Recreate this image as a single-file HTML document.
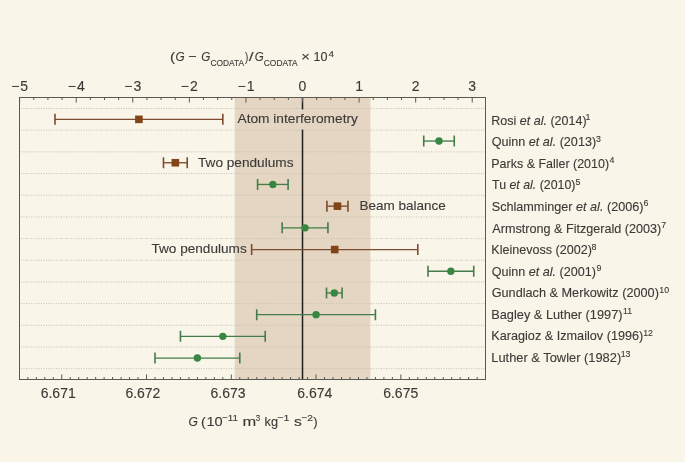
<!DOCTYPE html>
<html><head><meta charset="utf-8"><style>
html,body{margin:0;padding:0;background:#f9f5e9;}
svg{display:block;will-change:transform;}
text{font-family:"Liberation Sans",sans-serif;fill:#3c3a37;stroke:#3c3a37;stroke-width:0.12px;}
</style></head><body>
<svg width="685" height="462" viewBox="0 0 685 462">
<rect x="0" y="0" width="685" height="462" fill="#f9f5e9"/>
<rect x="234.69" y="97.5" width="135.63" height="282.0" fill="#e4d6c2"/>
<g stroke="#c4bfb3" stroke-width="1" stroke-dasharray="1 1.5">
<line x1="21.0" y1="108.50" x2="484.5" y2="108.50"/>
<line x1="21.0" y1="130.18" x2="484.5" y2="130.18"/>
<line x1="21.0" y1="151.86" x2="484.5" y2="151.86"/>
<line x1="21.0" y1="173.54" x2="484.5" y2="173.54"/>
<line x1="21.0" y1="195.22" x2="484.5" y2="195.22"/>
<line x1="21.0" y1="216.90" x2="484.5" y2="216.90"/>
<line x1="21.0" y1="238.58" x2="484.5" y2="238.58"/>
<line x1="21.0" y1="260.26" x2="484.5" y2="260.26"/>
<line x1="21.0" y1="281.94" x2="484.5" y2="281.94"/>
<line x1="21.0" y1="303.62" x2="484.5" y2="303.62"/>
<line x1="21.0" y1="325.30" x2="484.5" y2="325.30"/>
<line x1="21.0" y1="346.98" x2="484.5" y2="346.98"/>
<line x1="21.0" y1="368.66" x2="484.5" y2="368.66"/>
</g>
<line x1="302.51" y1="97.5" x2="302.51" y2="379.5" stroke="#221e19" stroke-width="1.5"/>
<rect x="236" y="109.4" width="124" height="20.2" fill="#e4d6c2"/>
<g stroke="#5c5852" stroke-width="1">
<line x1="19.64" y1="97.5" x2="19.64" y2="102.5"/>
<line x1="33.78" y1="97.5" x2="33.78" y2="100.0"/>
<line x1="47.92" y1="97.5" x2="47.92" y2="100.0"/>
<line x1="62.07" y1="97.5" x2="62.07" y2="100.0"/>
<line x1="76.21" y1="97.5" x2="76.21" y2="102.5"/>
<line x1="90.35" y1="97.5" x2="90.35" y2="100.0"/>
<line x1="104.50" y1="97.5" x2="104.50" y2="100.0"/>
<line x1="118.64" y1="97.5" x2="118.64" y2="100.0"/>
<line x1="132.78" y1="97.5" x2="132.78" y2="102.5"/>
<line x1="146.93" y1="97.5" x2="146.93" y2="100.0"/>
<line x1="161.07" y1="97.5" x2="161.07" y2="100.0"/>
<line x1="175.21" y1="97.5" x2="175.21" y2="100.0"/>
<line x1="189.36" y1="97.5" x2="189.36" y2="102.5"/>
<line x1="203.50" y1="97.5" x2="203.50" y2="100.0"/>
<line x1="217.65" y1="97.5" x2="217.65" y2="100.0"/>
<line x1="231.79" y1="97.5" x2="231.79" y2="100.0"/>
<line x1="245.93" y1="97.5" x2="245.93" y2="102.5"/>
<line x1="260.08" y1="97.5" x2="260.08" y2="100.0"/>
<line x1="274.22" y1="97.5" x2="274.22" y2="100.0"/>
<line x1="288.36" y1="97.5" x2="288.36" y2="100.0"/>
<line x1="302.51" y1="97.5" x2="302.51" y2="102.5"/>
<line x1="316.65" y1="97.5" x2="316.65" y2="100.0"/>
<line x1="330.79" y1="97.5" x2="330.79" y2="100.0"/>
<line x1="344.94" y1="97.5" x2="344.94" y2="100.0"/>
<line x1="359.08" y1="97.5" x2="359.08" y2="102.5"/>
<line x1="373.22" y1="97.5" x2="373.22" y2="100.0"/>
<line x1="387.37" y1="97.5" x2="387.37" y2="100.0"/>
<line x1="401.51" y1="97.5" x2="401.51" y2="100.0"/>
<line x1="415.66" y1="97.5" x2="415.66" y2="102.5"/>
<line x1="429.80" y1="97.5" x2="429.80" y2="100.0"/>
<line x1="443.94" y1="97.5" x2="443.94" y2="100.0"/>
<line x1="458.09" y1="97.5" x2="458.09" y2="100.0"/>
<line x1="472.23" y1="97.5" x2="472.23" y2="102.5"/>
<line x1="27.85" y1="379.5" x2="27.85" y2="377.0"/>
<line x1="36.33" y1="379.5" x2="36.33" y2="377.0"/>
<line x1="44.81" y1="379.5" x2="44.81" y2="377.0"/>
<line x1="53.28" y1="379.5" x2="53.28" y2="377.0"/>
<line x1="61.76" y1="379.5" x2="61.76" y2="374.5"/>
<line x1="70.24" y1="379.5" x2="70.24" y2="377.0"/>
<line x1="78.71" y1="379.5" x2="78.71" y2="377.0"/>
<line x1="87.19" y1="379.5" x2="87.19" y2="377.0"/>
<line x1="95.67" y1="379.5" x2="95.67" y2="377.0"/>
<line x1="104.14" y1="379.5" x2="104.14" y2="377.0"/>
<line x1="112.62" y1="379.5" x2="112.62" y2="377.0"/>
<line x1="121.10" y1="379.5" x2="121.10" y2="377.0"/>
<line x1="129.58" y1="379.5" x2="129.58" y2="377.0"/>
<line x1="138.05" y1="379.5" x2="138.05" y2="377.0"/>
<line x1="146.53" y1="379.5" x2="146.53" y2="374.5"/>
<line x1="155.01" y1="379.5" x2="155.01" y2="377.0"/>
<line x1="163.48" y1="379.5" x2="163.48" y2="377.0"/>
<line x1="171.96" y1="379.5" x2="171.96" y2="377.0"/>
<line x1="180.44" y1="379.5" x2="180.44" y2="377.0"/>
<line x1="188.92" y1="379.5" x2="188.92" y2="377.0"/>
<line x1="197.39" y1="379.5" x2="197.39" y2="377.0"/>
<line x1="205.87" y1="379.5" x2="205.87" y2="377.0"/>
<line x1="214.35" y1="379.5" x2="214.35" y2="377.0"/>
<line x1="222.82" y1="379.5" x2="222.82" y2="377.0"/>
<line x1="231.30" y1="379.5" x2="231.30" y2="374.5"/>
<line x1="239.78" y1="379.5" x2="239.78" y2="377.0"/>
<line x1="248.25" y1="379.5" x2="248.25" y2="377.0"/>
<line x1="256.73" y1="379.5" x2="256.73" y2="377.0"/>
<line x1="265.21" y1="379.5" x2="265.21" y2="377.0"/>
<line x1="273.68" y1="379.5" x2="273.68" y2="377.0"/>
<line x1="282.16" y1="379.5" x2="282.16" y2="377.0"/>
<line x1="290.64" y1="379.5" x2="290.64" y2="377.0"/>
<line x1="299.12" y1="379.5" x2="299.12" y2="377.0"/>
<line x1="307.59" y1="379.5" x2="307.59" y2="377.0"/>
<line x1="316.07" y1="379.5" x2="316.07" y2="374.5"/>
<line x1="324.55" y1="379.5" x2="324.55" y2="377.0"/>
<line x1="333.02" y1="379.5" x2="333.02" y2="377.0"/>
<line x1="341.50" y1="379.5" x2="341.50" y2="377.0"/>
<line x1="349.98" y1="379.5" x2="349.98" y2="377.0"/>
<line x1="358.46" y1="379.5" x2="358.46" y2="377.0"/>
<line x1="366.93" y1="379.5" x2="366.93" y2="377.0"/>
<line x1="375.41" y1="379.5" x2="375.41" y2="377.0"/>
<line x1="383.89" y1="379.5" x2="383.89" y2="377.0"/>
<line x1="392.36" y1="379.5" x2="392.36" y2="377.0"/>
<line x1="400.84" y1="379.5" x2="400.84" y2="374.5"/>
<line x1="409.32" y1="379.5" x2="409.32" y2="377.0"/>
<line x1="417.79" y1="379.5" x2="417.79" y2="377.0"/>
<line x1="426.27" y1="379.5" x2="426.27" y2="377.0"/>
<line x1="434.75" y1="379.5" x2="434.75" y2="377.0"/>
<line x1="443.23" y1="379.5" x2="443.23" y2="377.0"/>
<line x1="451.70" y1="379.5" x2="451.70" y2="377.0"/>
<line x1="460.18" y1="379.5" x2="460.18" y2="377.0"/>
<line x1="468.66" y1="379.5" x2="468.66" y2="377.0"/>
<line x1="477.13" y1="379.5" x2="477.13" y2="377.0"/>
</g>
<rect x="19.5" y="97.5" width="466.0" height="282.0" fill="none" stroke="#5c5852" stroke-width="1"/>
<path d="M54.98 119.35H222.82" stroke="#7d4b2d" stroke-width="1.35"/>
<path d="M54.98 113.85V124.85M222.82 113.85V124.85" stroke="#7d4b2d" stroke-width="1.6"/>
<rect x="135.10" y="115.55" width="7.6" height="7.6" fill="#83441a"/>
<path d="M423.73 141.05H454.25" stroke="#447d4a" stroke-width="1.35"/>
<path d="M423.73 135.55V146.55M454.25 135.55V146.55" stroke="#447d4a" stroke-width="1.6"/>
<circle cx="438.99" cy="141.05" r="3.7" fill="#378641"/>
<path d="M163.48 162.75H187.22" stroke="#7d4b2d" stroke-width="1.35"/>
<path d="M163.48 157.25V168.25M187.22 157.25V168.25" stroke="#7d4b2d" stroke-width="1.6"/>
<rect x="171.55" y="158.95" width="7.6" height="7.6" fill="#83441a"/>
<path d="M257.58 184.45H288.10" stroke="#447d4a" stroke-width="1.35"/>
<path d="M257.58 178.95V189.95M288.10 178.95V189.95" stroke="#447d4a" stroke-width="1.6"/>
<circle cx="272.84" cy="184.45" r="3.7" fill="#378641"/>
<path d="M326.92 206.15H347.94" stroke="#7d4b2d" stroke-width="1.35"/>
<path d="M326.92 200.65V211.65M347.94 200.65V211.65" stroke="#7d4b2d" stroke-width="1.6"/>
<rect x="333.63" y="202.35" width="7.6" height="7.6" fill="#83441a"/>
<path d="M282.16 227.85H327.94" stroke="#447d4a" stroke-width="1.35"/>
<path d="M282.16 222.35V233.35M327.94 222.35V233.35" stroke="#447d4a" stroke-width="1.6"/>
<circle cx="305.05" cy="227.85" r="3.7" fill="#378641"/>
<path d="M251.64 249.55H417.79" stroke="#7d4b2d" stroke-width="1.35"/>
<path d="M251.64 244.05V255.05M417.79 244.05V255.05" stroke="#7d4b2d" stroke-width="1.6"/>
<rect x="330.92" y="245.75" width="7.6" height="7.6" fill="#83441a"/>
<path d="M427.97 271.25H473.74" stroke="#447d4a" stroke-width="1.35"/>
<path d="M427.97 265.75V276.75M473.74 265.75V276.75" stroke="#447d4a" stroke-width="1.6"/>
<circle cx="450.85" cy="271.25" r="3.7" fill="#378641"/>
<path d="M326.50 292.95H342.09" stroke="#447d4a" stroke-width="1.35"/>
<path d="M326.50 287.45V298.45M342.09 287.45V298.45" stroke="#447d4a" stroke-width="1.6"/>
<circle cx="334.30" cy="292.95" r="3.7" fill="#378641"/>
<path d="M256.73 314.65H375.41" stroke="#447d4a" stroke-width="1.35"/>
<path d="M256.73 309.15V320.15M375.41 309.15V320.15" stroke="#447d4a" stroke-width="1.6"/>
<circle cx="316.07" cy="314.65" r="3.7" fill="#378641"/>
<path d="M180.44 336.35H265.21" stroke="#447d4a" stroke-width="1.35"/>
<path d="M180.44 330.85V341.85M265.21 330.85V341.85" stroke="#447d4a" stroke-width="1.6"/>
<circle cx="222.82" cy="336.35" r="3.7" fill="#378641"/>
<path d="M155.01 358.05H239.78" stroke="#447d4a" stroke-width="1.35"/>
<path d="M155.01 352.55V363.55M239.78 352.55V363.55" stroke="#447d4a" stroke-width="1.6"/>
<circle cx="197.39" cy="358.05" r="3.7" fill="#378641"/>
<text x="491.30" y="124.75" font-size="12.8" textLength="95.30" lengthAdjust="spacingAndGlyphs">Rosi <tspan font-style="italic">et al.</tspan> (2014)</text>
<text x="590.50" y="120.15" font-size="8.8" text-anchor="end">1</text>
<text x="491.73" y="146.31" font-size="12.8" textLength="104.37" lengthAdjust="spacingAndGlyphs">Quinn <tspan font-style="italic">et al.</tspan> (2013)</text>
<text x="600.80" y="141.71" font-size="8.8" text-anchor="end">3</text>
<text x="491.30" y="167.87" font-size="12.8" textLength="117.78" lengthAdjust="spacingAndGlyphs">Parks &amp; Faller (2010)</text>
<text x="614.30" y="163.27" font-size="8.8" text-anchor="end">4</text>
<text x="492.05" y="189.43" font-size="12.8" textLength="83.33" lengthAdjust="spacingAndGlyphs">Tu <tspan font-style="italic">et al.</tspan> (2010)</text>
<text x="580.40" y="184.83" font-size="8.8" text-anchor="end">5</text>
<text x="491.73" y="210.99" font-size="12.8" textLength="151.77" lengthAdjust="spacingAndGlyphs">Schlamminger <tspan font-style="italic">et al.</tspan> (2006)</text>
<text x="648.40" y="206.39" font-size="8.8" text-anchor="end">6</text>
<text x="492.30" y="232.55" font-size="12.8" textLength="169.01" lengthAdjust="spacingAndGlyphs">Armstrong &amp; Fitzgerald (2003)</text>
<text x="666.20" y="227.95" font-size="8.8" text-anchor="end">7</text>
<text x="491.30" y="254.11" font-size="12.8" textLength="100.52" lengthAdjust="spacingAndGlyphs">Kleinevoss (2002)</text>
<text x="596.40" y="249.51" font-size="8.8" text-anchor="end">8</text>
<text x="491.73" y="275.67" font-size="12.8" textLength="104.27" lengthAdjust="spacingAndGlyphs">Quinn <tspan font-style="italic">et al.</tspan> (2001)</text>
<text x="601.50" y="271.07" font-size="8.8" text-anchor="end">9</text>
<text x="491.67" y="297.23" font-size="12.8" textLength="167.23" lengthAdjust="spacingAndGlyphs">Gundlach &amp; Merkowitz (2000)</text>
<text x="669.10" y="292.63" font-size="8.8" text-anchor="end">10</text>
<text x="491.28" y="318.79" font-size="12.8" textLength="131.24" lengthAdjust="spacingAndGlyphs">Bagley &amp; Luther (1997)</text>
<text x="632.20" y="314.19" font-size="8.8" text-anchor="end">11</text>
<text x="491.29" y="340.35" font-size="12.8" textLength="151.98" lengthAdjust="spacingAndGlyphs">Karagioz &amp; Izmailov (1996)</text>
<text x="653.00" y="335.75" font-size="8.8" text-anchor="end">12</text>
<text x="491.27" y="361.91" font-size="12.8" textLength="129.95" lengthAdjust="spacingAndGlyphs">Luther &amp; Towler (1982)</text>
<text x="630.50" y="357.31" font-size="8.8" text-anchor="end">13</text>
<text x="237.50" y="123.20" font-size="13.2" textLength="120.41" lengthAdjust="spacingAndGlyphs">Atom interferometry</text>
<text x="198.03" y="166.80" font-size="13.2" textLength="95.44" lengthAdjust="spacingAndGlyphs">Two pendulums</text>
<text x="359.42" y="209.90" font-size="13.2" textLength="86.43" lengthAdjust="spacingAndGlyphs">Beam balance</text>
<text x="151.43" y="253.20" font-size="13.2" textLength="95.34" lengthAdjust="spacingAndGlyphs">Two pendulums</text>
<text x="19.64" y="90.6" font-size="14" text-anchor="middle">−<tspan dx="1">5</tspan></text>
<text x="76.21" y="90.6" font-size="14" text-anchor="middle">−<tspan dx="1">4</tspan></text>
<text x="132.78" y="90.6" font-size="14" text-anchor="middle">−<tspan dx="1">3</tspan></text>
<text x="189.36" y="90.6" font-size="14" text-anchor="middle">−<tspan dx="1">2</tspan></text>
<text x="245.93" y="90.6" font-size="14" text-anchor="middle">−<tspan dx="1">1</tspan></text>
<text x="302.51" y="90.6" font-size="14" text-anchor="middle">0</text>
<text x="359.08" y="90.6" font-size="14" text-anchor="middle">1</text>
<text x="415.66" y="90.6" font-size="14" text-anchor="middle">2</text>
<text x="472.23" y="90.6" font-size="14" text-anchor="middle">3</text>
<text x="58.20" y="398.3" font-size="14" text-anchor="middle">6.671</text>
<text x="142.90" y="398.3" font-size="14" text-anchor="middle">6.672</text>
<text x="228.10" y="398.3" font-size="14" text-anchor="middle">6.673</text>
<text x="314.80" y="398.3" font-size="14" text-anchor="middle">6.674</text>
<text x="400.70" y="398.3" font-size="14" text-anchor="middle">6.675</text>
<text x="169.97" y="61.30" font-size="13.2" textLength="5.15" lengthAdjust="spacingAndGlyphs">(</text>
<text x="175.61" y="61.30" font-size="13.2" font-style="italic" textLength="9.20" lengthAdjust="spacingAndGlyphs">G</text>
<text x="188.28" y="61.30" font-size="13.2" textLength="8.43" lengthAdjust="spacingAndGlyphs">−</text>
<text x="201.22" y="61.30" font-size="13.2" font-style="italic" textLength="9.08" lengthAdjust="spacingAndGlyphs">G</text>
<text x="210.38" y="66.40" font-size="9.2" textLength="33.65" lengthAdjust="spacingAndGlyphs">CODATA</text>
<text x="244.95" y="61.30" font-size="13.2" textLength="3.27" lengthAdjust="spacingAndGlyphs">)</text>
<text x="248.80" y="61.30" font-size="13.2" textLength="4.86" lengthAdjust="spacingAndGlyphs">/</text>
<text x="254.82" y="61.30" font-size="13.2" font-style="italic" textLength="8.97" lengthAdjust="spacingAndGlyphs">G</text>
<text x="263.78" y="66.40" font-size="9.2" textLength="33.85" lengthAdjust="spacingAndGlyphs">CODATA</text>
<text x="301.26" y="61.30" font-size="13.2" textLength="8.66" lengthAdjust="spacingAndGlyphs">×</text>
<text x="313.46" y="61.30" font-size="13.2" textLength="13.90" lengthAdjust="spacingAndGlyphs">10</text>
<text x="328.60" y="56.80" font-size="9" textLength="5.51" lengthAdjust="spacingAndGlyphs">4</text>
<text x="188.39" y="425.80" font-size="13.5" font-style="italic" textLength="9.42" lengthAdjust="spacingAndGlyphs">G</text>
<text x="201.04" y="425.80" font-size="13.5" textLength="4.78" lengthAdjust="spacingAndGlyphs">(</text>
<text x="206.41" y="425.80" font-size="13.5" textLength="16.24" lengthAdjust="spacingAndGlyphs">10</text>
<text x="222.11" y="420.80" font-size="9.2" textLength="15.96" lengthAdjust="spacingAndGlyphs">−11</text>
<text x="242.63" y="425.80" font-size="13.5" textLength="13.71" lengthAdjust="spacingAndGlyphs">m</text>
<text x="255.78" y="421.40" font-size="9.2" textLength="4.45" lengthAdjust="spacingAndGlyphs">3</text>
<text x="264.57" y="425.80" font-size="13.5" textLength="13.47" lengthAdjust="spacingAndGlyphs">kg</text>
<text x="277.26" y="420.80" font-size="9.2" textLength="12.22" lengthAdjust="spacingAndGlyphs">−1</text>
<text x="294.13" y="425.80" font-size="13.5" textLength="7.82" lengthAdjust="spacingAndGlyphs">s</text>
<text x="301.28" y="420.80" font-size="9.2" textLength="11.84" lengthAdjust="spacingAndGlyphs">−2</text>
<text x="313.33" y="425.80" font-size="13.5" textLength="4.40" lengthAdjust="spacingAndGlyphs">)</text>
</svg></body></html>
